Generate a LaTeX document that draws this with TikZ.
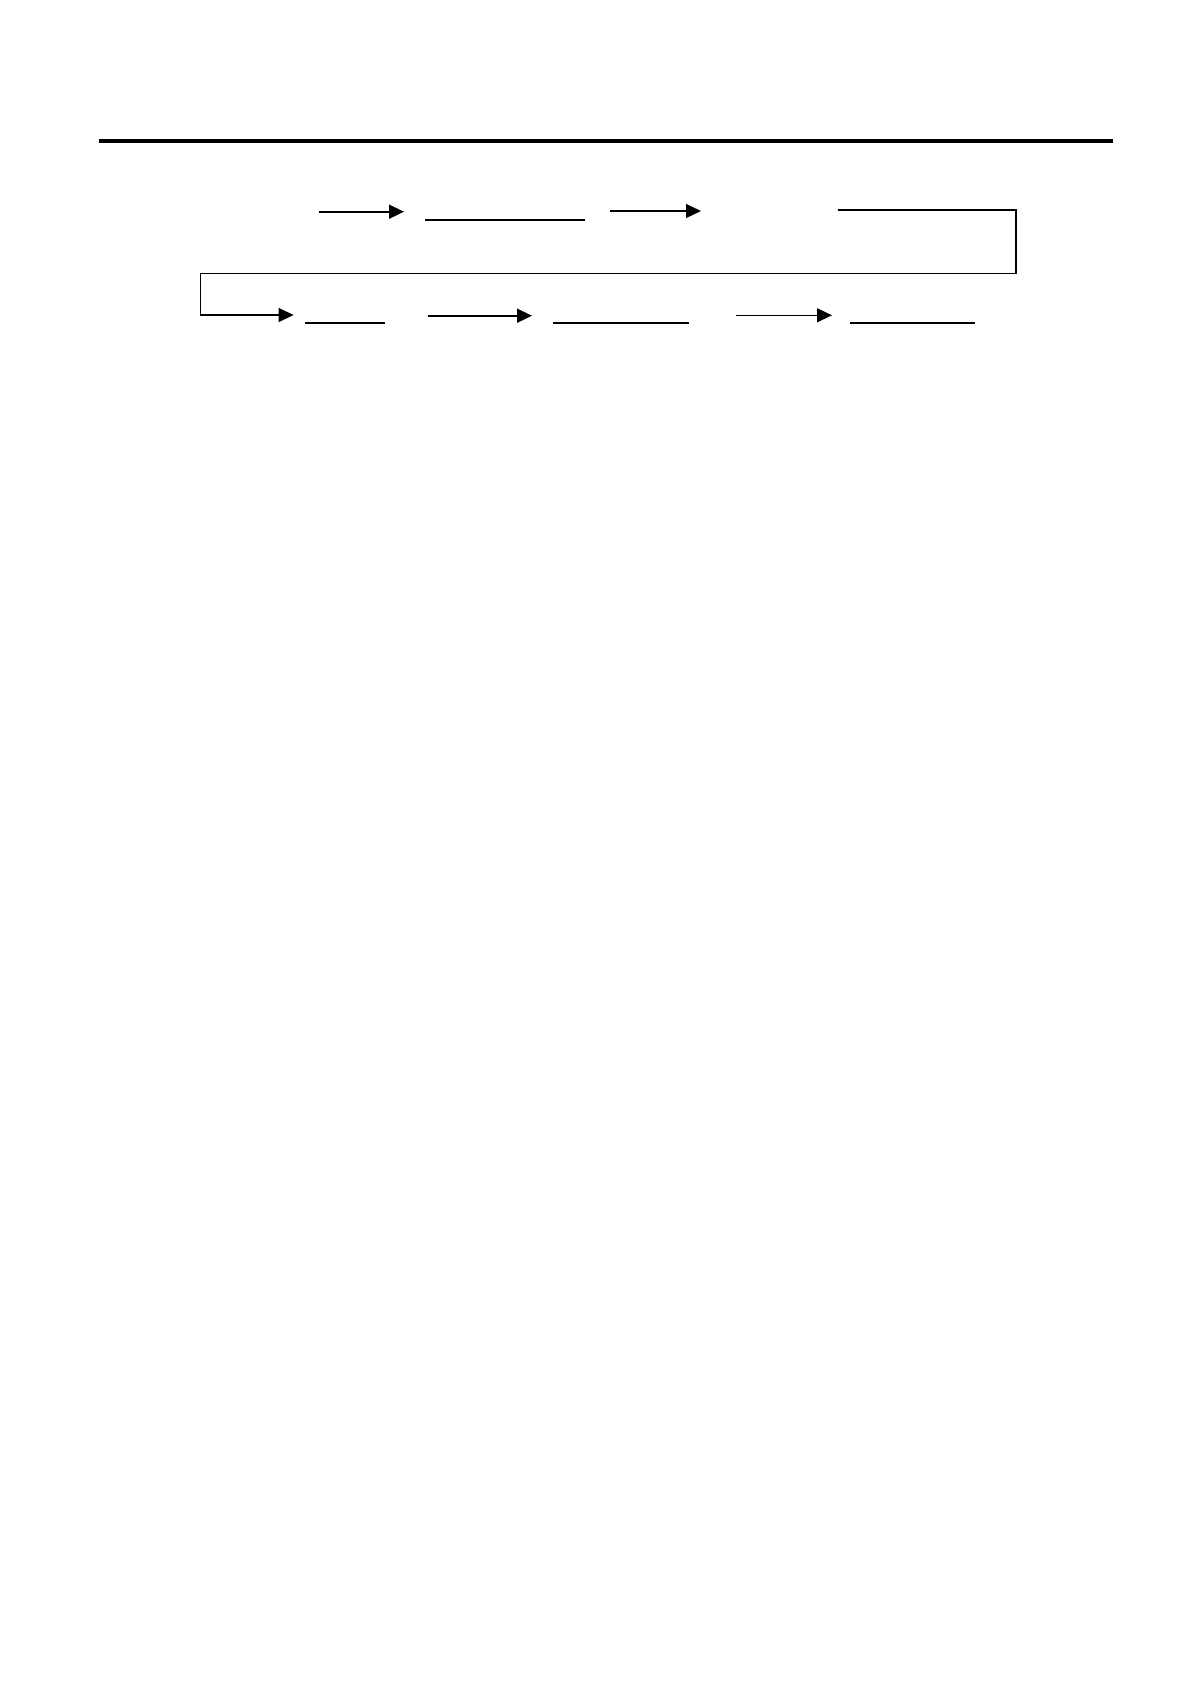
\documentclass[tikz,border=0pt]{standalone}
\usetikzlibrary{arrows.meta}
\begin{document}
\begin{tikzpicture}[x=1pt,y=-1pt,
  flow/.style={line width=1.6pt,-{Triangle[length=15pt,width=14pt]}},
  flowthin/.style={line width=1.2pt,-{Triangle[length=15pt,width=14pt]}},
  blank/.style={line width=1.2pt},
  blankthick/.style={line width=2.2pt},
  rule/.style={line width=4.2pt}]
\useasboundingbox (0,0) rectangle (1190,1684);
\coordinate (r1) at (99,141);
\coordinate (r2) at (1113,141);
\draw[rule] (r1) -- (r2);
% row 1
\coordinate (a1s) at (319,211.7);
\coordinate (a1e) at (404,211.7);
\draw[flow] (a1s) -- (a1e);
\coordinate (b1s) at (425,219.7);
\coordinate (b1e) at (585,219.7);
\draw[blankthick] (b1s) -- (b1e);
\coordinate (a2s) at (610,211);
\coordinate (a2e) at (701,211);
\draw[flowthin] (a2s) -- (a2e);
% return connector
\coordinate (c1) at (837.5,210);
\coordinate (c2) at (1016,210);
\coordinate (c3) at (1016,273.3);
\coordinate (c4) at (200.7,273.3);
\coordinate (c5) at (200.7,315);
\coordinate (c6) at (293.6,315);
\draw[flowthin] (c1) -- (c2) -- (c3) -- (c4) -- (c5) -- (c6);
% row 2
\coordinate (b2s) at (305,323);
\coordinate (b2e) at (384.6,323);
\draw[blank] (b2s) -- (b2e);
\coordinate (a3s) at (427.5,315.7);
\coordinate (a3e) at (532,315.7);
\draw[flow] (a3s) -- (a3e);
\coordinate (b3s) at (552.5,323);
\coordinate (b3e) at (688.6,323);
\draw[blank] (b3s) -- (b3e);
\coordinate (a4s) at (736,315.3);
\coordinate (a4e) at (832,315.3);
\draw[flowthin] (a4s) -- (a4e);
\coordinate (b4s) at (850,323);
\coordinate (b4e) at (975,323);
\draw[blank] (b4s) -- (b4e);
\end{tikzpicture}
\end{document}
